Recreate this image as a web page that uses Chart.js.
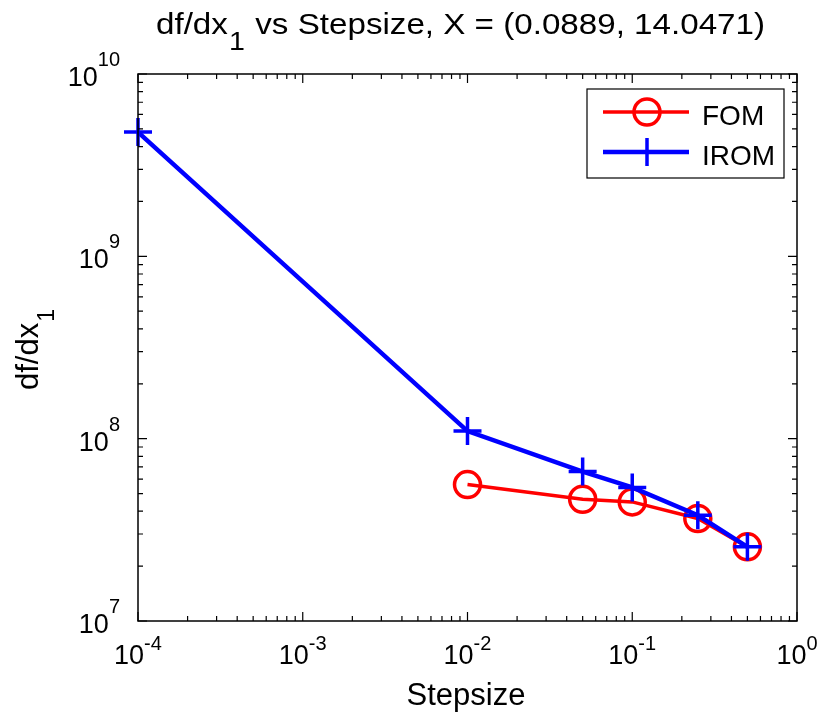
<!DOCTYPE html>
<html>
<head>
<meta charset="utf-8">
<script src="https://cdn.jsdelivr.net/npm/chart.js@4/dist/chart.umd.min.js"></script>
<style>
  html, body { margin: 0; padding: 0; background: #fff; }
  #c { display: block; }
</style>
</head>
<body>
<canvas id="c" width="818" height="723"></canvas>
<script>
// Finite-difference step sizes and derivative estimates
const fomSteps   = [1e-2, 0.05, 0.1, 0.25, 0.5];
const fomValues  = [5.6e7, 4.65e7, 4.5e7, 3.65e7, 2.55e7];
const iromSteps  = [1e-4, 1e-2, 0.05, 0.1, 0.25, 0.5];
const iromValues = [4.8e9, 1.1e8, 6.6e7, 5.4e7, 3.8e7, 2.55e7];
const seriesNames = ['FOM', 'IROM'];

// Decade tick exponents for both log axes
const xTickExponents = [-4, -3, -2, -1, 0];
const yTickExponents = [7, 8, 9, 10];

const titleMain = 'df/dx';
const titleSub = '1';
const titleRest = ' vs Stepsize, X = (0.0889, 14.0471)';
const xLabel = 'Stepsize';
const yLabelMain = 'df/dx';
const yLabelSub = '1';

const FONT = '"Liberation Sans", Arial, Helvetica, sans-serif';
const RED = '#ff0000';
const BLUE = '#0000ff';

function toPoints(xs, ys) { return xs.map((x, i) => ({ x: x, y: ys[i] })); }

// Draws box, inward ticks, superscripted tick labels, title, axis labels and legend
const decorations = {
  id: 'decorations',
  afterDraw(chart) {
    const ctx = chart.ctx;
    const xs = chart.scales.x, ys = chart.scales.y;
    const a = chart.chartArea;
    ctx.save();

    // axes box
    ctx.strokeStyle = '#000';
    ctx.lineWidth = 1.5;
    ctx.strokeRect(a.left, a.top, a.right - a.left, a.bottom - a.top);

    // ticks
    const MAJ = 9, MIN = 5;
    ctx.lineWidth = 1.2;
    ctx.beginPath();
    for (let i = 0; i < xTickExponents.length; i++) {
      const e = xTickExponents[i];
      const px = xs.getPixelForValue(Math.pow(10, e));
      ctx.moveTo(px, a.bottom); ctx.lineTo(px, a.bottom - MAJ);
      ctx.moveTo(px, a.top); ctx.lineTo(px, a.top + MAJ);
      if (i < xTickExponents.length - 1) {
        for (let m = 2; m <= 9; m++) {
          const mx = xs.getPixelForValue(m * Math.pow(10, e));
          ctx.moveTo(mx, a.bottom); ctx.lineTo(mx, a.bottom - MIN);
          ctx.moveTo(mx, a.top); ctx.lineTo(mx, a.top + MIN);
        }
      }
    }
    for (let i = 0; i < yTickExponents.length; i++) {
      const e = yTickExponents[i];
      const py = ys.getPixelForValue(Math.pow(10, e));
      ctx.moveTo(a.left, py); ctx.lineTo(a.left + MAJ, py);
      ctx.moveTo(a.right, py); ctx.lineTo(a.right - MAJ, py);
      if (i < yTickExponents.length - 1) {
        for (let m = 2; m <= 9; m++) {
          const my = ys.getPixelForValue(m * Math.pow(10, e));
          ctx.moveTo(a.left, my); ctx.lineTo(a.left + MIN, my);
          ctx.moveTo(a.right, my); ctx.lineTo(a.right - MIN, my);
        }
      }
    }
    ctx.stroke();

    // tick labels: "10" with superscript exponent
    const baseFont = '27px ' + FONT;
    const supFont = '20px ' + FONT;
    ctx.fillStyle = '#000';
    ctx.textBaseline = 'alphabetic';
    ctx.textAlign = 'left';
    xTickExponents.forEach(e => {
      const px = xs.getPixelForValue(Math.pow(10, e));
      const sup = String(e);
      ctx.font = baseFont; const w1 = ctx.measureText('10').width;
      ctx.font = supFont; const w2 = ctx.measureText(sup).width;
      const x0 = px - (w1 + w2) / 2;
      ctx.font = baseFont; ctx.fillText('10', x0, a.bottom + 43);
      ctx.font = supFont; ctx.fillText(sup, x0 + w1, a.bottom + 29);
    });
    yTickExponents.forEach(e => {
      const py = ys.getPixelForValue(Math.pow(10, e));
      const sup = String(e);
      ctx.font = baseFont; const w1 = ctx.measureText('10').width;
      ctx.font = supFont; const w2 = ctx.measureText(sup).width;
      const right = a.left - 18;
      const x0 = right - w2 - w1;
      ctx.font = baseFont; ctx.fillText('10', x0, py + 12);
      ctx.font = supFont; ctx.fillText(sup, x0 + w1, py - 8);
    });

    // title with subscript, set in a slightly wide face
    const tFont = '29px ' + FONT, tSub = '25px ' + FONT;
    ctx.font = tFont; const tw1 = ctx.measureText(titleMain).width;
    ctx.font = tSub; const tw2 = ctx.measureText(titleSub).width;
    ctx.font = tFont; const tw3 = ctx.measureText(titleRest).width;
    const tTotal = tw1 + tw2 + 2 + tw3;
    const tStretch = 609 / tTotal;
    ctx.save();
    ctx.translate(156, 0);
    ctx.scale(tStretch, 1);
    ctx.font = tFont; ctx.fillText(titleMain, 0, 34);
    ctx.font = tSub; ctx.fillText(titleSub, tw1 + 1, 50);
    ctx.font = tFont; ctx.fillText(titleRest, tw1 + tw2 + 2, 34);
    ctx.restore();

    // x axis label
    ctx.font = '31px ' + FONT;
    ctx.textAlign = 'center';
    ctx.fillText(xLabel, 466, 705);

    // y axis label, rotated, with subscript
    ctx.save();
    ctx.translate(38, 390);
    ctx.rotate(-Math.PI / 2);
    ctx.textAlign = 'left';
    const yFont = '31px ' + FONT, ySub = '23px ' + FONT;
    ctx.font = yFont; const yw1 = ctx.measureText(yLabelMain).width;
    ctx.font = yFont; ctx.fillText(yLabelMain, 0, 0);
    ctx.font = ySub; ctx.fillText(yLabelSub, yw1 + 1, 16);
    ctx.restore();

    // legend
    const lg = { left: 587, top: 89, right: 784, bottom: 178 };
    ctx.fillStyle = '#fff';
    ctx.fillRect(lg.left, lg.top, lg.right - lg.left, lg.bottom - lg.top);
    ctx.strokeStyle = '#000';
    ctx.lineWidth = 1.2;
    ctx.strokeRect(lg.left, lg.top, lg.right - lg.left, lg.bottom - lg.top);
    const rows = [
      { name: seriesNames[0], color: RED, y: 112, marker: 'circle' },
      { name: seriesNames[1], color: BLUE, y: 152, marker: 'cross' }
    ];
    rows.forEach(r => {
      ctx.strokeStyle = r.color;
      ctx.lineWidth = r.marker === 'circle' ? 3.5 : 4.5;
      ctx.beginPath(); ctx.moveTo(603, r.y); ctx.lineTo(689, r.y); ctx.stroke();
      ctx.lineWidth = 3.5;
      ctx.beginPath();
      if (r.marker === 'circle') {
        ctx.arc(647, r.y, 13, 0, Math.PI * 2);
      } else {
        ctx.moveTo(633, r.y); ctx.lineTo(661, r.y);
        ctx.moveTo(647, r.y - 14); ctx.lineTo(647, r.y + 14);
      }
      ctx.stroke();
      ctx.fillStyle = '#000';
      ctx.font = '28px ' + FONT;
      ctx.textAlign = 'left';
      ctx.fillText(r.name, 702, r.y + 13);
    });

    ctx.restore();
  }
};

new Chart(document.getElementById('c'), {
  type: 'line',
  data: {
    datasets: [
      {
        label: seriesNames[0],
        data: toPoints(fomSteps, fomValues),
        borderColor: RED,
        borderWidth: 3.5,
        pointStyle: 'circle',
        pointRadius: 13,
        pointBorderWidth: 3.5,
        pointBackgroundColor: 'rgba(0,0,0,0)',
        pointBorderColor: RED,
        tension: 0,
        fill: false,
        clip: false,
        order: 1
      },
      {
        label: seriesNames[1],
        data: toPoints(iromSteps, iromValues),
        borderColor: BLUE,
        borderWidth: 4.5,
        pointStyle: 'cross',
        pointRadius: 14,
        pointBorderWidth: 3.5,
        pointBackgroundColor: BLUE,
        pointBorderColor: BLUE,
        tension: 0,
        fill: false,
        clip: false,
        order: 0
      }
    ]
  },
  options: {
    responsive: false,
    devicePixelRatio: 1,
    animation: false,
    events: [],
    layout: { padding: { left: 138, top: 74, right: 21, bottom: 102 } },
    plugins: {
      legend: { display: false },
      title: { display: false },
      tooltip: { enabled: false }
    },
    scales: {
      x: { type: 'logarithmic', min: 1e-4, max: 1, display: false },
      y: { type: 'logarithmic', min: 1e7, max: 1e10, display: false }
    }
  },
  plugins: [decorations]
});
</script>
</body>
</html>
